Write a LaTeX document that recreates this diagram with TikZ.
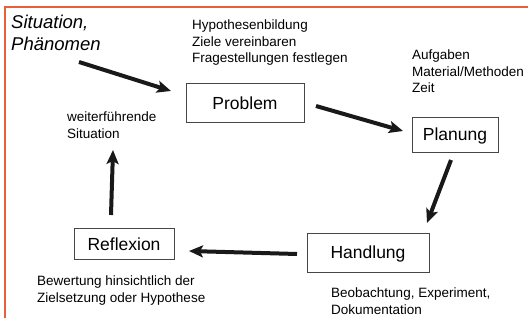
\documentclass[tikz,border=0pt]{standalone}
\usepackage{fontspec}
\setmainfont{Liberation Sans}
\usetikzlibrary{arrows.meta}
\definecolor{frameorange}{RGB}{232,96,58}
\definecolor{boxgray}{RGB}{70,70,70}
\tikzset{
  stepbox/.style={draw=boxgray, line width=1pt, rectangle, inner sep=0pt,
    font=\fontsize{17.5}{20}\selectfont},
  smalltext/.style={anchor=north west, inner sep=0pt, align=left,
    font=\fontsize{13.5}{16.5}\selectfont},
  bigarrow/.style={line width=4pt, -{Stealth[length=14pt,width=12pt,inset=3pt]}, black!90}
}
\begin{document}
\begin{tikzpicture}[x=1pt,y=-1pt]
\useasboundingbox (0,0) rectangle (528,320);
\fill[white] (0,0) rectangle (528,320);
% frame
\draw[frameorange, line width=2pt] (5,318) -- (5,7) -- (528,7);

% boxes
\node[stepbox, minimum width=118pt, minimum height=39pt] (problem) at (245,103.5) {Problem};
\node[stepbox, minimum width=86pt, minimum height=35pt] (planung) at (455,135.5) {Planung};
\node[stepbox, minimum width=122pt, minimum height=39pt] (handlung) at (368,253.5) {Handlung};
\node[stepbox, minimum width=100pt, minimum height=31pt] (reflexion) at (124,244.5) {Reflexion};

% texts
\node[anchor=north west, inner sep=0pt, align=left,
  font=\fontsize{18.5}{22}\selectfont\itshape] (situation) at (11,15) {Situation,\\Phänomen};
\node[smalltext] (hyp) at (192,20) {Hypothesenbildung\\Ziele vereinbaren\\Fragestellungen festlegen};
\node[smalltext] (aufg) at (412,50) {Aufgaben\\Material/Methoden\\Zeit};
\node[smalltext] (weiter) at (67,112) {weiterführende\\Situation};
\node[smalltext] (bew) at (37,276) {Bewertung hinsichtlich der\\Zielsetzung oder Hypothese};
\node[smalltext] (beob) at (331,288) {Beobachtung, Experiment,\\Dokumentation};

% arrow end points
\coordinate (a1s) at (79,62);   \coordinate (a1e) at (171,91);
\coordinate (a2s) at (316,106); \coordinate (a2e) at (403,131);
\coordinate (a3s) at (451,160); \coordinate (a3e) at (427,223);
\coordinate (a4s) at (297,254); \coordinate (a4e) at (189,251);
\coordinate (a5s) at (111,215); \coordinate (a5e) at (113,150);

\draw[bigarrow] (a1s) -- (a1e);
\draw[bigarrow] (a2s) -- (a2e);
\draw[bigarrow] (a3s) -- (a3e);
\draw[bigarrow] (a4s) -- (a4e);
\draw[bigarrow] (a5s) -- (a5e);
\end{tikzpicture}
\end{document}
